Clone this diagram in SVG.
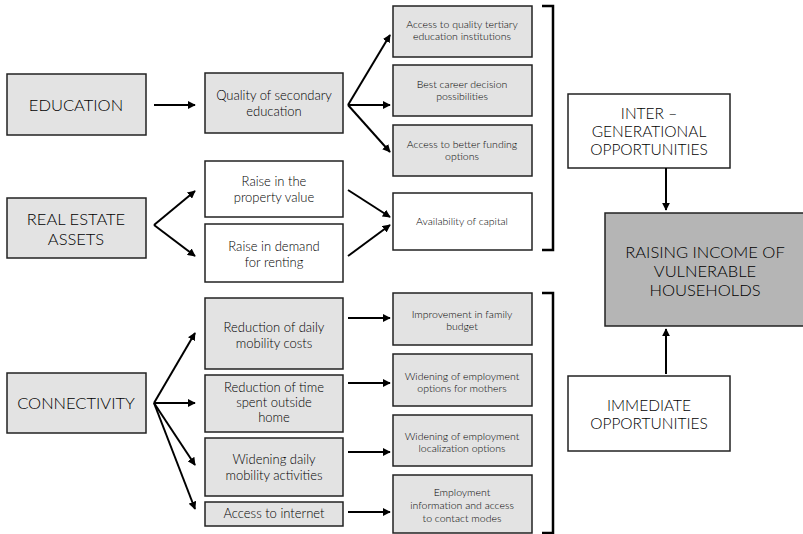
<svg xmlns="http://www.w3.org/2000/svg" width="803" height="534" viewBox="0 0 803 534">
<defs>
<marker id="ah" viewBox="0 0 10 10" refX="9" refY="5" markerWidth="4" markerHeight="4" orient="auto" markerUnits="strokeWidth">
<path d="M0,0 L10,5 L0,10 z" fill="#000"/>
</marker>
<style>
rect{stroke:#222;stroke-width:1.5}
.g{fill:#e3e3e3}
.w{fill:#fff}
.d{fill:#b5b5b5}
text{font-family:Lato,"Noto Sans","Liberation Sans",sans-serif;font-weight:300;fill:#000;text-anchor:middle}
.big{font-size:16.5px}
.op{font-size:15.5px}
.mid{font-size:13px}
.sm{font-size:10.5px}
.c line{stroke:#000;stroke-width:2;marker-end:url(#ah)}
.br{fill:none;stroke:#000;stroke-width:2.5}
</style>
</defs>
<rect x="0" y="0" width="803" height="534" fill="#fff" style="stroke:none"/>

<g id="education"><rect class="g" x="7" y="74" width="139" height="61"/><text class="big" x="76" y="111">EDUCATION</text></g>
<g id="real-estate"><rect class="g" x="7" y="198" width="139" height="60"/><text class="big" x="76" y="225">REAL ESTATE</text><text class="big" x="76" y="245">ASSETS</text></g>
<g id="connectivity"><rect class="g" x="7" y="373" width="139" height="60"/><text class="big" x="76" y="409">CONNECTIVITY</text></g>

<g id="quality"><rect class="g" x="205" y="73" width="138" height="60"/><text class="mid" x="274" y="100">Quality of secondary</text><text class="mid" x="274" y="116">education</text></g>
<g id="raise-property"><rect class="w" x="205" y="161" width="138" height="56"/><text class="mid" x="274" y="186">Raise in the</text><text class="mid" x="274" y="202">property value</text></g>
<g id="raise-demand"><rect class="w" x="205" y="224" width="138" height="58"/><text class="mid" x="274" y="251">Raise in demand</text><text class="mid" x="274" y="267">for renting</text></g>
<g id="reduction-costs"><rect class="g" x="205" y="298" width="138" height="71"/><text class="mid" x="274" y="332">Reduction of daily</text><text class="mid" x="274" y="348">mobility costs</text></g>
<g id="reduction-time"><rect class="g" x="205" y="375" width="138" height="57"/><text class="mid" x="274" y="392">Reduction of time</text><text class="mid" x="274" y="407">spent outside</text><text class="mid" x="274" y="422">home</text></g>
<g id="widening-daily"><rect class="g" x="205" y="438" width="138" height="58"/><text class="mid" x="274" y="464">Widening daily</text><text class="mid" x="274" y="480">mobility activities</text></g>
<g id="internet"><rect class="g" x="205" y="502" width="138" height="24"/><text class="mid" x="274" y="518">Access to internet</text></g>

<g id="tertiary"><rect class="g" x="393" y="6" width="139" height="51"/><text class="sm" x="462" y="28">Access to quality tertiary</text><text class="sm" x="462" y="40">education institutions</text></g>
<g id="career"><rect class="g" x="393" y="65" width="139" height="51"/><text class="sm" x="462" y="88">Best career decision</text><text class="sm" x="462" y="100">possibilities</text></g>
<g id="funding"><rect class="g" x="393" y="125" width="139" height="51"/><text class="sm" x="462" y="148">Access to better funding</text><text class="sm" x="462" y="160">options</text></g>
<g id="capital"><rect class="w" x="393" y="193" width="139" height="57"/><text class="sm" x="462" y="225">Availability of capital</text></g>
<g id="budget"><rect class="g" x="393" y="293" width="139" height="52"/><text class="sm" x="462" y="318">Improvement in family</text><text class="sm" x="462" y="330">budget</text></g>
<g id="mothers"><rect class="g" x="393" y="354" width="139" height="52"/><text class="sm" x="462" y="380">Widening of employment</text><text class="sm" x="462" y="392">options for mothers</text></g>
<g id="localization"><rect class="g" x="393" y="415" width="139" height="51"/><text class="sm" x="462" y="440">Widening of employment</text><text class="sm" x="462" y="452">localization options</text></g>
<g id="employment-info"><rect class="g" x="393" y="475" width="139" height="58"/><text class="sm" x="462" y="496">Employment</text><text class="sm" x="462" y="509">information and access</text><text class="sm" x="462" y="522">to contact modes</text></g>

<g id="inter"><rect class="w" x="568" y="94" width="162" height="74"/><text class="op" x="649" y="119">INTER –</text><text class="op" x="649" y="137">GENERATIONAL</text><text class="op" x="649" y="155">OPPORTUNITIES</text></g>
<g id="immediate"><rect class="w" x="568" y="376" width="162" height="75"/><text class="op" x="649" y="411">IMMEDIATE</text><text class="op" x="649" y="429">OPPORTUNITIES</text></g>
<g id="raising"><rect class="d" x="605" y="213" width="200" height="113"/><text class="big" x="705" y="258">RAISING INCOME OF</text><text class="big" x="705" y="277">VULNERABLE</text><text class="big" x="705" y="296">HOUSEHOLDS</text></g>

<g id="brackets">
<path class="br" d="M542,6 H553 V250 H542"/>
<path class="br" d="M542,293 H553 V533 H542"/>
</g>

<g id="connectors" class="c">
<line x1="154" y1="105" x2="195" y2="105"/>
<line x1="348" y1="105" x2="390" y2="35"/>
<line x1="348" y1="105" x2="390" y2="105"/>
<line x1="348" y1="105" x2="390" y2="152"/>
<line x1="154" y1="225" x2="195" y2="191"/>
<line x1="154" y1="225" x2="195" y2="256"/>
<line x1="348" y1="190" x2="390" y2="217"/>
<line x1="348" y1="256" x2="390" y2="225"/>
<line x1="154" y1="403" x2="195" y2="333"/>
<line x1="154" y1="403" x2="195" y2="403"/>
<line x1="154" y1="403" x2="195" y2="465"/>
<line x1="154" y1="403" x2="195" y2="509"/>
<line x1="348" y1="318" x2="390" y2="318"/>
<line x1="348" y1="383" x2="390" y2="383"/>
<line x1="348" y1="452" x2="390" y2="452"/>
<line x1="348" y1="512" x2="390" y2="512"/>
<line x1="666" y1="168" x2="666" y2="210"/>
<line x1="666" y1="374" x2="666" y2="329"/>
</g>
</svg>
